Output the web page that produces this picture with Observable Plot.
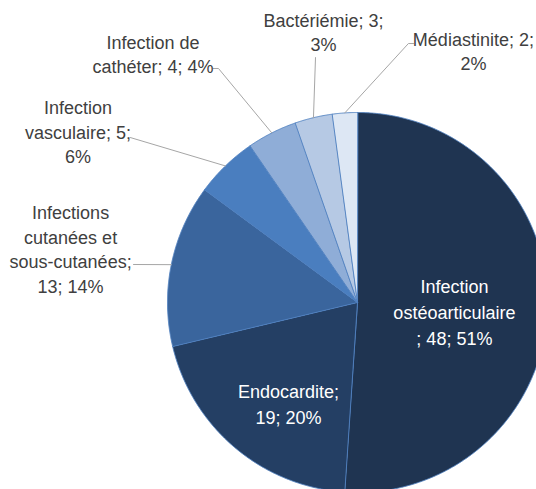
<!DOCTYPE html>
<html><head><meta charset="utf-8">
<script src="https://cdn.jsdelivr.net/npm/d3@7"></script>
<script src="https://cdn.jsdelivr.net/npm/@observablehq/plot@0.6"></script>
<style>html,body{margin:0;padding:0;background:#fff;overflow:hidden}</style>
</head><body><div id="chart"></div>
<script>
// ---- data ----
const categories = ["Infection ostéoarticulaire", "Endocardite", "Infections cutanées et sous-cutanées", "Infection vasculaire", "Infection de cathéter", "Bactériémie", "Médiastinite"];
const counts = [48, 19, 13, 5, 4, 3, 2];
const percents = [51, 20, 14, 6, 4, 3, 2];
const labelTexts = [
  "Infection\nostéoarticulaire\n; 48; 51%",
  "Endocardite;\n19; 20%",
  "Infections\ncutanées et\nsous-cutanées;\n13; 14%",
  "Infection\nvasculaire; 5;\n6%",
  "Infection de\ncathéter; 4; 4%",
  "Bactériémie; 3;\n3%",
  "Médiastinite; 2;\n2%"
];
const sliceColors = ["#1f3451", "#243f64", "#3a659d", "#4a7ebf", "#8fadd7", "#b6c9e4", "#dde7f4"];

// ---- layout (pie units: centre 0,0 ; radius 1) ----
const W = 536, H = 489, cx = 357, cy = 302, R = 190;
const inside = [true, true, false, false, false, false, false];
const labelPos = [[0.51, -0.045], [-0.363, -0.529], [-1.51, 0.287], [-1.471, 0.905], [-1.076, 1.313], [-0.179, 1.429], [0.61, 1.329]];
const leaderEnds = [null, null, [[-1.179, 0.2]], [[-1.195, 0.868]], [[-0.7316, 1.2316], [-0.76, 1.2316]], [[-0.221, 1.289]], [[0.268, 1.363], [0.295, 1.363]]];

const arcs = d3.pie().sort(null).startAngle(0).endAngle(2 * Math.PI)(counts);

const marks = [];
arcs.forEach((a, i) => {
  const pts = [{u: 0, v: 0}];
  const n = Math.max(2, Math.ceil((a.endAngle - a.startAngle) / 0.005));
  for (let k = 0; k <= n; k++) {
    const t = a.startAngle + (a.endAngle - a.startAngle) * k / n;
    pts.push({u: Math.sin(t), v: Math.cos(t)});
  }
  marks.push(Plot.line(pts, {x: "u", y: "v", fill: sliceColors[i], stroke: "#4f80bf", strokeWidth: 0.9, curve: "linear-closed"}));
});

// leader lines
const leaders = [];
arcs.forEach((a, i) => {
  if (!leaderEnds[i]) return;
  const m = (a.startAngle + a.endAngle) / 2;
  leaders.push({id: i, u: Math.sin(m), v: Math.cos(m)});
  leaderEnds[i].forEach(p => leaders.push({id: i, u: p[0], v: p[1]}));
});
marks.push(Plot.line(leaders, {x: "u", y: "v", z: "id", stroke: "#a6a6a6", strokeWidth: 1}));

const labels = categories.map((c, i) => ({cat: c, count: counts[i], pct: percents[i], text: labelTexts[i], u: labelPos[i][0], v: labelPos[i][1], inside: inside[i]}));

marks.push(Plot.text(labels.filter(d => d.inside), {x: "u", y: "v", text: "text", fill: "#ffffff", fontSize: 18, lineHeight: 1.44, lineAnchor: "middle", textAnchor: "middle"}));
marks.push(Plot.text(labels.filter(d => !d.inside), {x: "u", y: "v", text: "text", fill: "#404040", fontSize: 18, lineHeight: 1.38, lineAnchor: "middle", textAnchor: "middle"}));

const chart = Plot.plot({
  width: W, height: H, margin: 0,
  x: {domain: [-cx / R, (W - cx) / R], axis: null},
  y: {domain: [-(H - cy) / R, cy / R], axis: null},
  style: {fontFamily: "'Liberation Sans', Arial, sans-serif", background: "#fff", overflow: "visible"},
  marks
});
document.getElementById("chart").appendChild(chart);
</script>
</body></html>
